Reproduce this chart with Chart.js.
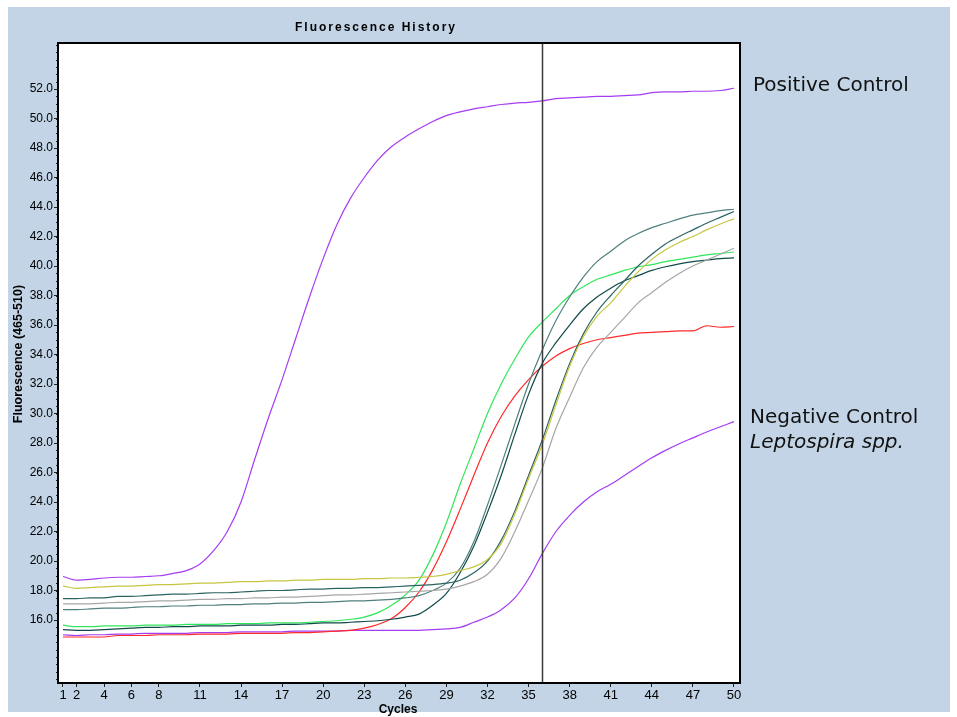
<!DOCTYPE html>
<html><head><meta charset="utf-8">
<script src="https://cdn.jsdelivr.net/npm/chart.js@4/dist/chart.umd.min.js"></script>
<style>html,body{margin:0;padding:0;background:#fff}canvas{display:block}</style>
</head><body>
<canvas id="c" width="957" height="717"></canvas>
<script>
const cycles = [1,2,3,4,5,6,7,8,9,10,11,12,13,14,15,16,17,18,19,20,21,22,23,24,25,26,27,28,29,30,31,32,33,34,35,36,37,38,39,40,41,42,43,44,45,46,47,48,49,50];
const xTickLabels = [1,2,4,6,8,11,14,17,20,23,26,29,32,35,38,41,44,47,50];
const yTickLabels = [16,18,20,22,24,26,28,30,32,34,36,38,40,42,44,46,48,50,52];
const thresholdCycle = 36;

const positiveControl = [18.95,18.7,18.75,18.85,18.9,18.9,18.95,19.0,19.15,19.35,19.8,20.7,22.0,24.0,26.9,29.7,32.3,35.1,37.9,40.5,42.8,44.6,46.0,47.2,48.1,48.75,49.3,49.8,50.2,50.45,50.65,50.8,50.95,51.05,51.1,51.2,51.35,51.4,51.45,51.5,51.5,51.55,51.6,51.75,51.8,51.8,51.85,51.85,51.9,52.05];
const negativeControl = [15.0,14.95,15.0,15.0,15.05,15.05,15.1,15.1,15.1,15.1,15.15,15.15,15.15,15.2,15.2,15.2,15.2,15.25,15.25,15.25,15.25,15.3,15.3,15.3,15.3,15.3,15.3,15.35,15.4,15.5,15.85,16.2,16.7,17.5,18.8,20.5,22.0,23.1,24.0,24.7,25.2,25.8,26.4,27.0,27.5,27.95,28.35,28.75,29.1,29.45];
const sampleRed = [14.85,14.85,14.85,14.85,14.95,14.95,14.95,15.0,15.0,15.0,15.05,15.05,15.05,15.1,15.1,15.1,15.1,15.15,15.15,15.2,15.25,15.3,15.45,15.7,16.1,16.85,17.9,19.4,21.3,23.5,25.8,28.0,29.8,31.2,32.3,33.2,33.9,34.4,34.75,35.0,35.15,35.3,35.45,35.5,35.55,35.6,35.6,35.95,35.85,35.9];
const sampleGreen = [15.65,15.55,15.55,15.6,15.6,15.6,15.65,15.65,15.65,15.7,15.7,15.7,15.75,15.75,15.75,15.8,15.8,15.8,15.85,15.9,15.95,16.05,16.2,16.5,17.0,17.7,18.7,20.4,22.6,25.2,27.6,30.0,32.0,33.7,35.2,36.2,37.1,38.0,38.6,39.1,39.4,39.7,39.95,40.1,40.3,40.45,40.6,40.75,40.85,40.95];
const sampleYellow = [18.3,18.15,18.2,18.25,18.3,18.3,18.35,18.4,18.4,18.45,18.5,18.5,18.55,18.6,18.6,18.65,18.65,18.7,18.7,18.75,18.75,18.75,18.8,18.8,18.85,18.85,18.9,18.95,19.1,19.35,19.6,20.1,21.2,23.2,25.6,27.9,30.6,33.2,35.2,36.6,37.5,38.6,39.6,40.45,41.1,41.6,42.0,42.45,42.85,43.2];
const sampleGrey = [17.1,17.1,17.1,17.15,17.2,17.2,17.25,17.3,17.3,17.35,17.4,17.4,17.45,17.45,17.5,17.5,17.55,17.55,17.6,17.65,17.7,17.7,17.75,17.8,17.85,17.9,17.95,18.0,18.1,18.3,18.6,19.1,20.2,22.0,24.1,26.3,29.0,31.1,33.1,34.5,35.5,36.5,37.5,38.2,38.9,39.5,40.0,40.4,40.8,41.2];
const sampleTeal1 = [16.7,16.7,16.75,16.8,16.8,16.85,16.9,16.9,16.95,16.95,17.0,17.0,17.05,17.05,17.1,17.1,17.15,17.15,17.2,17.2,17.25,17.3,17.3,17.35,17.4,17.5,17.65,18.0,18.5,19.5,21.3,23.8,26.5,29.3,32.0,34.3,36.3,37.9,39.25,40.3,41.0,41.7,42.2,42.6,42.9,43.2,43.45,43.6,43.75,43.85];
const sampleTeal2 = [15.35,15.3,15.3,15.35,15.4,15.45,15.5,15.5,15.55,15.55,15.6,15.6,15.6,15.65,15.65,15.65,15.7,15.7,15.75,15.8,15.8,15.85,15.9,15.95,16.05,16.2,16.4,17.0,17.8,19.2,21.0,23.3,25.8,28.6,31.3,33.4,34.8,36.0,37.1,37.9,38.5,39.0,39.35,39.7,39.95,40.15,40.3,40.4,40.5,40.55];
const sampleTeal3 = [17.45,17.45,17.5,17.5,17.6,17.6,17.65,17.7,17.75,17.75,17.8,17.85,17.85,17.9,17.95,18.0,18.0,18.05,18.1,18.1,18.15,18.15,18.2,18.2,18.25,18.3,18.35,18.4,18.5,18.7,19.2,20.0,21.4,23.4,25.8,28.2,30.9,33.4,35.4,36.9,38.0,39.0,40.0,40.8,41.5,42.0,42.45,42.9,43.3,43.7];

const seriesList = [
  {name:'Sample grey', values: sampleGrey, color:'#a6a6a6'},
  {name:'Sample yellow', values: sampleYellow, color:'#c6c640'},
  {name:'Sample teal 3', values: sampleTeal3, color:'#2b6363'},
  {name:'Sample teal 1', values: sampleTeal1, color:'#4f807e'},
  {name:'Sample teal 2', values: sampleTeal2, color:'#104a48'},
  {name:'Sample green', values: sampleGreen, color:'#30e65a'},
  {name:'Sample red', values: sampleRed, color:'#ff2a2a'},
  {name:'Negative Control', values: negativeControl, color:'#a63cf2'},
  {name:'Positive Control', values: positiveControl, color:'#a63cf2'}
];

const decor = {
  id: 'decor',
  beforeDraw(chart) {
    const ctx = chart.ctx, a = chart.chartArea;
    ctx.save();
    ctx.fillStyle = '#fff'; ctx.fillRect(0, 0, chart.width, chart.height);
    ctx.fillStyle = '#c2d4e5'; ctx.fillRect(8, 7, 942, 705);
    ctx.fillStyle = '#fff'; ctx.fillRect(a.left, a.top, a.right - a.left, a.bottom - a.top);
    ctx.restore();
  },
  afterDatasetsDraw(chart) {
    const ctx = chart.ctx, a = chart.chartArea;
    const xs = chart.scales.x, ys = chart.scales.y;
    ctx.save();
    const tx = Math.round(xs.getPixelForValue(thresholdCycle)) + 0.5;
    ctx.strokeStyle = '#3a3a3a'; ctx.lineWidth = 1.5;
    ctx.beginPath(); ctx.moveTo(tx, a.top); ctx.lineTo(tx, a.bottom); ctx.stroke();
    ctx.strokeStyle = '#222'; ctx.lineWidth = 1;
    for (let v = 12; v <= 55; v += 0.5) {
      const py = Math.round(ys.getPixelForValue(v)) + 0.5;
      if (py < a.top || py > a.bottom) continue;
      ctx.beginPath(); ctx.moveTo(a.left - 2, py); ctx.lineTo(a.left, py); ctx.stroke();
    }
    ctx.strokeStyle = '#000'; ctx.lineWidth = 2;
    ctx.strokeRect(a.left, a.top, a.right - a.left, a.bottom - a.top);
    ctx.restore();
  },
  afterDraw(chart) {
    const ctx = chart.ctx;
    ctx.save();
    ctx.fillStyle = '#000';
    ctx.textBaseline = 'alphabetic';
    ctx.font = 'bold 12px "Liberation Sans", Arial, sans-serif';
    ctx.textAlign = 'center';
    try { ctx.letterSpacing = '2px'; } catch (e) {}
    ctx.fillText('Fluorescence History', 376, 31);
    try { ctx.letterSpacing = '0px'; } catch (e) {}
    ctx.font = 'bold 12px "Liberation Sans", Arial, sans-serif';
    ctx.fillText('Cycles', 398, 713);
    ctx.save();
    ctx.translate(22, 354);
    ctx.rotate(-Math.PI / 2);
    ctx.font = 'bold 12.5px "Liberation Sans", Arial, sans-serif';
    ctx.fillText('Fluorescence (465-510)', 0, 0);
    ctx.restore();
    ctx.textAlign = 'left';
    ctx.fillStyle = '#111';
    ctx.font = '20px "DejaVu Sans", sans-serif';
    ctx.fillText('Positive Control', 753, 91);
    ctx.fillText('Negative Control', 750, 423);
    ctx.font = 'italic 20px "DejaVu Sans", sans-serif';
    ctx.fillText('Leptospira spp.', 750, 448);
    ctx.restore();
  }
};

new Chart(document.getElementById('c'), {
  type: 'line',
  data: {
    datasets: seriesList.map(s => ({
      label: s.name,
      data: s.values.map((v, i) => ({x: cycles[i], y: v})),
      borderColor: s.color,
      borderWidth: 1.2,
      pointRadius: 0,
      fill: false,
      cubicInterpolationMode: 'monotone'
    }))
  },
  options: {
    responsive: false,
    animation: false,
    devicePixelRatio: 1,
    layout: {padding: {left: 0, right: 217, top: 43, bottom: 0}},
    plugins: {legend: {display: false}, tooltip: {enabled: false}, title: {display: false}},
    scales: {
      x: {
        type: 'linear', min: 0.635, max: 50.44,
        afterBuildTicks(scale) { scale.ticks = xTickLabels.map(v => ({value: v})); },
        afterFit(scale) { scale.height = 34; },
        ticks: {autoSkip: false, maxRotation: 0, padding: 1, color: '#000',
          font: {family: '"Liberation Sans Narrow", "Liberation Sans", Arial, sans-serif', size: 13},
          callback: v => String(v)},
        grid: {drawOnChartArea: false, drawTicks: true, tickLength: 4, color: '#222'},
        border: {display: false}
      },
      y: {
        type: 'linear', min: 11.73, max: 55.12,
        afterBuildTicks(scale) { scale.ticks = yTickLabels.map(v => ({value: v})); },
        afterFit(scale) { scale.width = 58; },
        ticks: {autoSkip: false, padding: 1, color: '#000',
          font: {family: '"Liberation Sans", Arial, sans-serif', size: 12},
          callback: v => Number(v).toFixed(1)},
        grid: {drawOnChartArea: false, drawTicks: true, tickLength: 4, color: '#222'},
        border: {display: false}
      }
    }
  },
  plugins: [decor]
});
</script>
</body></html>
